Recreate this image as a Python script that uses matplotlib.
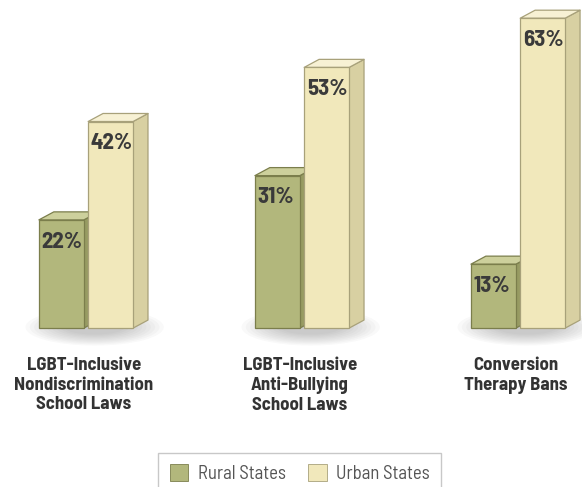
import matplotlib.pyplot as plt
from matplotlib.patches import Polygon, Rectangle, Ellipse

categories = ["LGBT-Inclusive\nNondiscrimination\nSchool Laws",
              "LGBT-Inclusive\nAnti-Bullying\nSchool Laws",
              "Conversion\nTherapy Bans"]
rural = [22, 31, 13]
urban = [42, 53, 63]
series_names = ["Rural States", "Urban States"]

plt.rcParams["font.family"] = ["Barlow Semi Condensed", "DejaVu Sans"]

# face colours: front, top, side, edge
RURAL = ("#b2b77c", "#cdd09c", "#979b62", "#7b7e4c")
URBAN = ("#f1e8bb", "#f7f1d4", "#d8d0a2", "#a8a17a")

W = 0.208     # bar width (group units)
GAP = 0.01    # half gap between the pair
DX = 0.069    # depth offset to the right
DY = 1.63     # depth offset upward (in %)

fig = plt.figure(figsize=(5.82, 4.87), dpi=100)
ax = fig.add_axes([0, 0, 1, 1])
ax.set_xlim(-0.398, 2.296)
ax.set_ylim(-32.3, 66.7)
ax.axis("off")


def bar3d(x0, h, colors):
    front, top, side, edge = colors
    x1 = x0 + W
    ax.add_patch(Polygon([(x1, 0), (x1 + DX, DY), (x1 + DX, h + DY), (x1, h)],
                         fc=side, ec=edge, lw=0.9, joinstyle="round"))
    ax.add_patch(Polygon([(x0, h), (x1, h), (x1 + DX, h + DY), (x0 + DX, h + DY)],
                         fc=top, ec=edge, lw=0.9, joinstyle="round"))
    ax.add_patch(Rectangle((x0, 0), W, h, fc=front, ec=edge, lw=0.9))
    ax.text(x0 + 0.012, h - 4.4, f"{h}%", ha="left", va="center",
            fontsize=16.5, fontweight="bold", color="#3a3a3a")


for i, (r, u) in enumerate(zip(rural, urban)):
    # soft shadow under each pair
    for k in range(10):
        ax.add_patch(Ellipse((i + 0.04, 0.2), 0.64 - k * 0.04, 7.5 - k * 0.5,
                             fc="#6a6a6a", ec="none", alpha=0.04, zorder=0))
    bar3d(i - GAP - W, r, RURAL)
    bar3d(i + GAP, u, URBAN)
    ax.text(i - 0.01, -5.8, categories[i], ha="center", va="top", fontsize=13.5,
            fontweight="bold", color="#333333", linespacing=1.22)

handles = [Rectangle((0, 0), 1, 1, fc=RURAL[0], ec=RURAL[3], lw=0.6),
           Rectangle((0, 0), 1, 1, fc=URBAN[0], ec=URBAN[3], lw=0.6)]
leg = fig.legend(handles, series_names, loc="upper center",
                 bbox_to_anchor=(300 / 582, 1 - 453 / 487), ncol=2,
                 frameon=True, fancybox=False, fontsize=13.5,
                 handlelength=1.0, handleheight=1.0, handletextpad=0.5,
                 columnspacing=1.2, borderpad=0.6, borderaxespad=0,
                 labelcolor="#555555")
leg.get_frame().set_edgecolor("#bbbbbb")
leg.get_frame().set_linewidth(1.0)

fig.savefig("out.png", dpi=100)
